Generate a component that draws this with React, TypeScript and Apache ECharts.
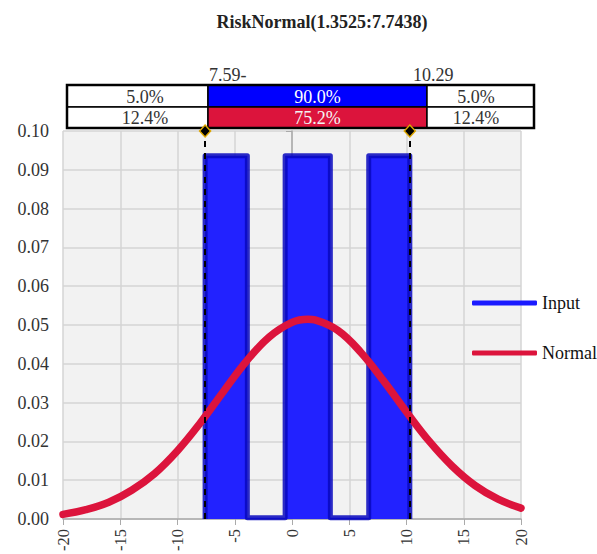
import React, { useEffect, useRef } from "react";
import * as echarts from "echarts";

const titleText = "RiskNormal(1.3525:7.7438)";
const seriesNames = ["Input", "Normal"];

// Input distribution outline (step corners)
const inputX = [-7.59, -7.59, -3.9, -3.9, -0.6, -0.6, 3.35, 3.35, 6.7, 6.7, 10.29, 10.29];
const inputY = [0, 0.0936, 0.0936, 0.0003, 0.0003, 0.0936, 0.0936, 0.0003, 0.0003, 0.0936, 0.0936, 0];

// Fitted normal curve
const normalX = [-20, -18, -16, -14, -12, -10, -8, -6, -4, -2, 0, 1.4, 2, 4, 6, 8, 10, 12, 14, 16, 18, 20];
const normalY = [0.0012, 0.0024, 0.0043, 0.0074, 0.0117, 0.0176, 0.0248, 0.0328, 0.0406, 0.0469, 0.0507, 0.0515, 0.0513, 0.0486, 0.043, 0.0356, 0.0276, 0.02, 0.0136, 0.0086, 0.0051, 0.0028];

const markerValues = [-7.59, 10.29];
const markerLabels = ["7.59-", "10.29"];
const inputPcts = ["5.0%", "90.0%", "5.0%"];
const normalPcts = ["12.4%", "75.2%", "12.4%"];

const FONT = "Liberation Serif";

export default function App() {
  const ref = useRef<HTMLDivElement>(null);
  useEffect(() => {
    if (!ref.current) return;
    const chart = echarts.init(ref.current, undefined, { renderer: "svg" });

    const colX = [67, 208, 427, 534];
    const rowY = [85, 107, 128];
    const textCx = [145, 317.5, 476];
    const cellFill = [
      ["#ffffff", "#0000ff", "#ffffff"],
      ["#ffffff", "#dc143c", "#ffffff"],
    ];
    const cellText = [
      ["#333", "#ffffff", "#333"],
      ["#333", "#f4f4f4", "#333"],
    ];
    const rows = [inputPcts, normalPcts];
    const graphics: any[] = [];
    rows.forEach((row, r) => {
      row.forEach((t, c) => {
        graphics.push({
          type: "rect",
          shape: { x: colX[c], y: rowY[r], width: colX[c + 1] - colX[c], height: rowY[r + 1] - rowY[r] },
          style: { fill: cellFill[r][c], stroke: "#000", lineWidth: 1.5 },
        });
        graphics.push({
          type: "text",
          x: textCx[c],
          y: (rowY[r] + rowY[r + 1]) / 2 + 0.5,
          style: { text: t, fill: cellText[r][c], font: `18px "${FONT}"`, align: "center", verticalAlign: "middle" },
        });
      });
    });
    graphics.push({
      type: "rect",
      shape: { x: colX[0], y: rowY[0], width: colX[3] - colX[0], height: rowY[2] - rowY[0] },
      style: { fill: "none", stroke: "#000", lineWidth: 2.5 },
    });
    graphics.push({
      type: "text", x: 209, y: 75,
      style: { text: markerLabels[0], fill: "#333", font: `18px "${FONT}"`, align: "left", verticalAlign: "middle" },
    });
    graphics.push({
      type: "text", x: 413, y: 75,
      style: { text: markerLabels[1], fill: "#333", font: `18px "${FONT}"`, align: "left", verticalAlign: "middle" },
    });

    chart.setOption({
      animation: false,
      backgroundColor: "#ffffff",
      title: {
        text: titleText,
        left: 317,
        textAlign: "center",
        top: 8,
        textStyle: { fontFamily: FONT, fontSize: 18, fontWeight: "bold", color: "#222" },
      },
      legend: {
        orient: "vertical",
        left: 472,
        top: 294,
        padding: 0,
        itemWidth: 65,
        itemHeight: 5,
        itemGap: 32,
        icon: "roundRect",
        data: seriesNames,
        textStyle: { fontFamily: FONT, fontSize: 18, color: "#111", lineHeight: 18 },
      },
      grid: {
        left: 63,
        right: 76,
        top: 131,
        bottom: 34,
        show: true,
        backgroundColor: "#f2f2f2",
        borderWidth: 0,
      },
      xAxis: {
        type: "value",
        min: -20,
        max: 20,
        interval: 5,
        axisLine: { show: true, onZero: false, lineStyle: { color: "#aaaaaa", width: 1.5 } },
        axisTick: { show: true, length: 6, lineStyle: { color: "#aaaaaa" } },
        splitLine: { show: true, lineStyle: { color: "#d4d4d4", width: 1.5 } },
        axisLabel: { rotate: 90, margin: 10, fontFamily: FONT, fontSize: 16.5, color: "#333" },
      },
      yAxis: {
        type: "value",
        min: 0,
        max: 0.1,
        interval: 0.01,
        axisLine: { show: true, lineStyle: { color: "#aaaaaa", width: 1.5 } },
        axisTick: { show: true, length: 6, lineStyle: { color: "#aaaaaa" } },
        splitLine: { show: true, lineStyle: { color: "#d4d4d4", width: 1.5 } },
        axisLabel: {
          margin: 14,
          fontFamily: FONT,
          fontSize: 18,
          color: "#333",
          formatter: (v: number) => v.toFixed(2),
        },
      },
      series: [
        {
          name: seriesNames[0],
          type: "line",
          data: inputX.map((x, i) => [x, inputY[i]]),
          symbol: "none",
          clip: false,
          z: 2,
          itemStyle: { color: "#1a1aff" },
          lineStyle: { color: "rgba(8,8,190,0.85)", width: 5, join: "round" },
          areaStyle: { color: "#2222ff", opacity: 1 },
          markLine: {
            silent: true,
            symbol: "none",
            label: { show: false },
            lineStyle: { color: "#000", type: [6, 6], width: 2 },
            data: markerValues.map((v) => ({ xAxis: v })),
          },
          markPoint: {
            symbol: "diamond",
            symbolSize: [11, 12],
            label: { show: false },
            itemStyle: { color: "#000", borderColor: "#e0a800", borderWidth: 1.5 },
            data: markerValues.map((v) => ({ coord: [v, 0.1] })),
          },
        },
        {
          name: seriesNames[1],
          type: "line",
          data: normalX.map((x, i) => [x, normalY[i]]),
          smooth: 0.4,
          symbol: "none",
          z: 3,
          itemStyle: { color: "#dc143c" },
          lineStyle: { color: "#dc143c", width: 7.5, cap: "round" },
        },
      ],
      graphic: graphics,
    });
    return () => chart.dispose();
  }, []);
  return (
    <div
      ref={ref}
      style={{ position: "absolute", left: 0, top: 0, width: 597, height: 554 }}
    />
  );
}
